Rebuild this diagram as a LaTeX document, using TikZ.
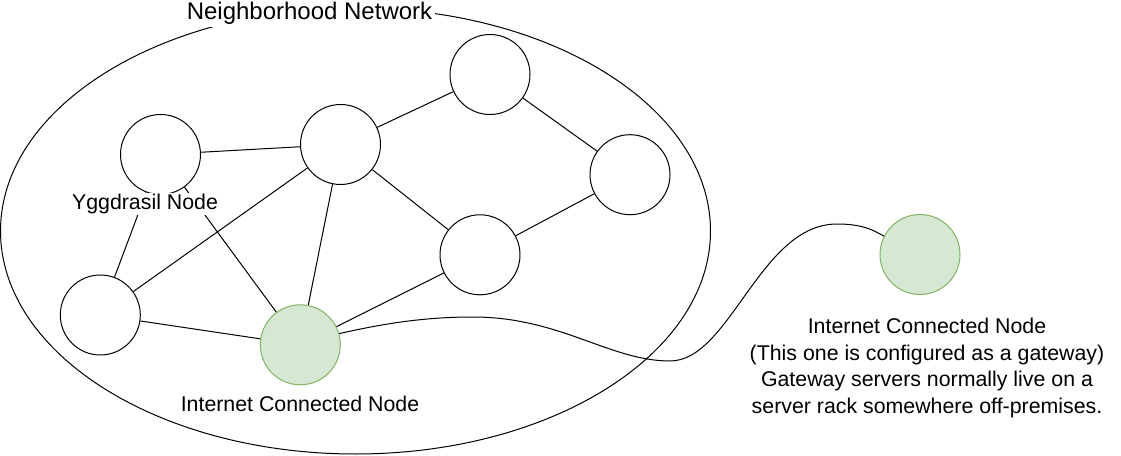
\documentclass[tikz,border=0pt]{standalone}
\usepackage{fontspec}
\setmainfont{Liberation Sans}
\definecolor{gwfill}{HTML}{D5E8D4}
\definecolor{gwline}{HTML}{82B366}
\begin{document}
\begin{tikzpicture}[x=0.75pt,y=-0.75pt,line width=0.75pt,
  peer/.style={circle, draw, minimum size=60pt, inner sep=0pt},
  gate/.style={peer, draw=gwline, fill=gwfill},
  lbl/.style={fill=white, inner sep=1pt, font=\fontsize{16}{20}\selectfont}]
\useasboundingbox (0,0) rectangle (1121,456);
\draw (355.5,231) ellipse [x radius=266.25pt, y radius=167.25pt];
\node[peer] (nd0) at (160.5,154.5){};
\node[peer] (nd1) at (340.5,144.5){};
\node[peer] (nd2) at (490,74.5){};
\node[peer] (nd3) at (630,174.7){};
\node[peer] (nd4) at (480,254.8){};
\node[peer] (nd5) at (100.3,315){};
\node[gate] (nd6) at (300.3,344.8){};
\node[gate] (nd7) at (920,254.5){};
\draw[](nd0) -- (nd1);
\draw[](nd1) -- (nd2);
\draw[](nd2) -- (nd3);
\draw[](nd3) -- (nd4);
\draw[](nd1) -- (nd4);
\draw[](nd1) -- (nd5);
\draw[](nd1) -- (nd6);
\draw[](nd0) -- (nd5);
\draw[](nd0) -- (nd6);
\draw[](nd5) -- (nd6);
\draw[](nd4) -- (nd6);
\draw[](nd6.16) .. controls (390,322) and (430,317) .. (473,317)
  .. controls (560,317) and (610,361) .. (670,361)
  .. controls (730,361) and (760,224) .. (837,224)
  .. controls (860,224) and (872,229) .. (nd7.153);
\node[lbl, inner sep=2pt, font=\fontsize{18}{22}\selectfont] (title) at (309.5,13.5){Neighborhood Network};
\node[lbl] (ylbl) at (145,204){Yggdrasil Node};
\node[lbl] (iclbl) at (300,404){Internet Connected Node};
\node[lbl, align=center] (gwlbl) at (927,368){Internet Connected Node\\(This one is configured as a gateway)\\Gateway servers normally live on a\\server rack somewhere off-premises.};
\end{tikzpicture}
\end{document}
